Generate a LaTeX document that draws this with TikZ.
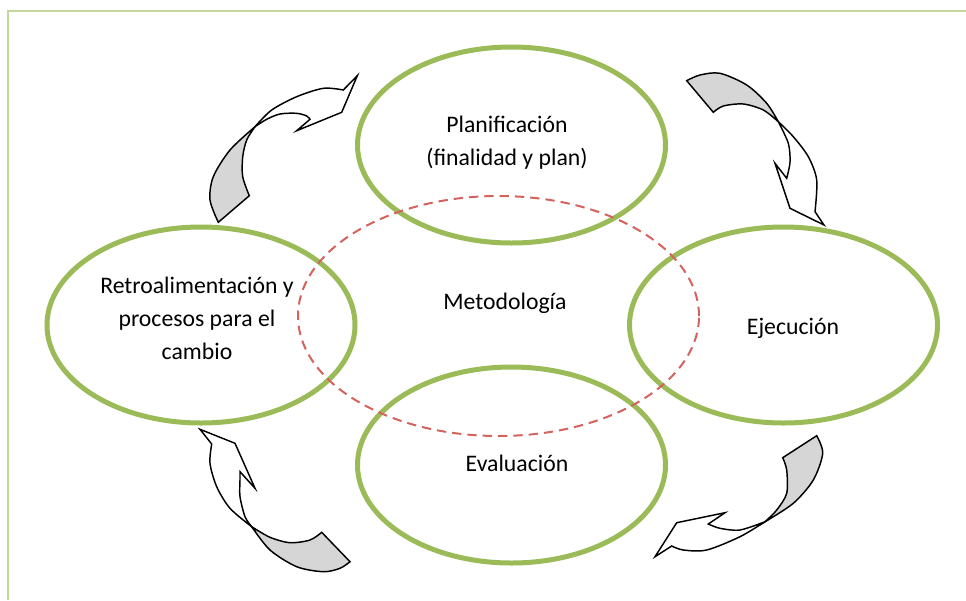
\documentclass[tikz,border=0pt]{standalone}
\usepackage{fontspec}
\setmainfont{Carlito}
\usetikzlibrary{shapes.geometric}
\definecolor{elgreen}{HTML}{9BBB59}
\definecolor{frameg}{HTML}{C3D69B}
\definecolor{dashred}{HTML}{D4625D}
\definecolor{twist}{HTML}{D6D6D6}
\begin{document}
\begin{tikzpicture}[x=0.75pt,y=-0.75pt,
  stage/.style={ellipse, draw=elgreen, line width=3.75pt, minimum width=231pt, minimum height=147pt, inner sep=0pt},
  method/.style={ellipse, draw=dashred, line width=1.5pt, dash pattern=on 7pt off 4.5pt, minimum width=300.75pt, minimum height=180pt, inner sep=0pt},
  label/.style={font=\fontsize{17.8}{24.75}\selectfont, align=center, inner sep=0pt},
  arr/.style={draw=black, line width=1.1pt, line join=miter},
  backside/.style={arr, fill=twist},
  frontside/.style={arr, fill=white}]
\useasboundingbox (0,0) rectangle (966,600);
\draw[frameg, line width=1.5pt] (966,11) -- (8,11) -- (8,600);

% ellipses
\node[stage] (plan) at (511.5,145) {};
\node[stage] (retro) at (201,325) {};
\node[stage] (ejec) at (783.5,325) {};
\node[stage] (eval) at (511.5,465) {};
\node[method] (met) at (498.5,316) {};

% texts
\node[label] (tplan) at (507,143) {Planificación\\(finalidad y plan)};
\node[label] (tretro) at (197,318) {Retroalimentación y\\procesos para el\\cambio};
\node[label] (tmet) at (505,303) {Metodología};
\node[label] (tejec) at (793,328) {Ejecución};
\node[label] (teval) at (517,463) {Evaluación};

% arrow 1 (top-left)
\coordinate (c1) at (255,126.7);
\path[backside] plot[smooth] coordinates {(255,126.7) (230,150) (213.3,176.7) (210,200) (218.3,222.3)}
  -- (249.3,195.7)
  -- plot[smooth] coordinates {(249.3,195.7) (242.7,176.7) (242.7,156.7) (246.7,140) (255,126.7)} -- cycle;
\path[frontside] plot[smooth] coordinates {(255,126.7) (271.7,110) (296.7,96.7) (323.3,88.3) (343.3,90)}
  -- (357.3,75.7) -- (341.7,112.3) -- (296.7,130.7) -- (310,119.3)
  -- plot[smooth] coordinates {(310,119.3) (306.7,116) (296.7,113.3) (280,114) (266.7,119.3) (255,126.7)} -- cycle;

% arrow 2 (top-right)
\coordinate (c2) at (778.3,121.7);
\path[backside] plot[smooth] coordinates {(686.7,80.7) (700,75) (720,73.3) (746.7,85) (766.7,103.3) (778.3,121.7)}
  -- plot[smooth] coordinates {(778.3,121.7) (763.3,110) (743.3,104) (723.3,106) (713.3,112.3)} -- cycle;
\path[frontside] plot[smooth] coordinates {(778.3,121.7) (793.3,136.7) (808.3,156.7) (816.7,180) (815,211.7)}
  -- (824,225) -- (790,208.3) -- (775,163.3) -- (786.7,178.3)
  -- plot[smooth] coordinates {(786.7,178.3) (790,162) (788.3,143.3) (778.3,121.7)} -- cycle;

% arrow 3 (bottom-left)
\coordinate (c3) at (251.7,526.7);
\path[backside] plot[smooth] coordinates {(251.7,526.7) (270,550) (296.7,566.7) (323.3,571.7) (340,568.3) (350,561.7)}
  -- (321.7,532.3)
  -- plot[smooth] coordinates {(321.7,532.3) (310,540) (290,542.7) (270,537.3) (251.7,526.7)} -- cycle;
\path[frontside] (200,429.3) -- (211.7,444)
  -- plot[smooth] coordinates {(211.7,444) (210,463.3) (216.7,486.7) (230,508.3) (251.7,526.7)}
  -- plot[smooth] coordinates {(251.7,526.7) (245,516.7) (240,496.7) (240,480) (240,471.7)}
  -- (255,488.3) -- (235,443.3) -- cycle;

% arrow 4 (bottom-right)
\coordinate (c4) at (765,521.7);
\path[backside] (816.7,435.7) -- (782.7,457.7)
  -- plot[smooth] coordinates {(782.7,457.7) (786.7,470) (786.7,493.3) (776.7,510) (765,521.7)}
  -- plot[smooth] coordinates {(765,521.7) (793.3,503.3) (813.3,480) (822.7,453.3) (816.7,435.7)} -- cycle;
\path[frontside] plot[smooth] coordinates {(765,521.7) (740,536.7) (706.7,550) (683.3,550) (671.7,546)}
  -- (655,556.7) -- (676.7,522.7) -- (725,512.7) -- (708.3,524)
  -- plot[smooth] coordinates {(708.3,524) (720,528.3) (740,530) (765,521.7)} -- cycle;
\end{tikzpicture}
\end{document}
